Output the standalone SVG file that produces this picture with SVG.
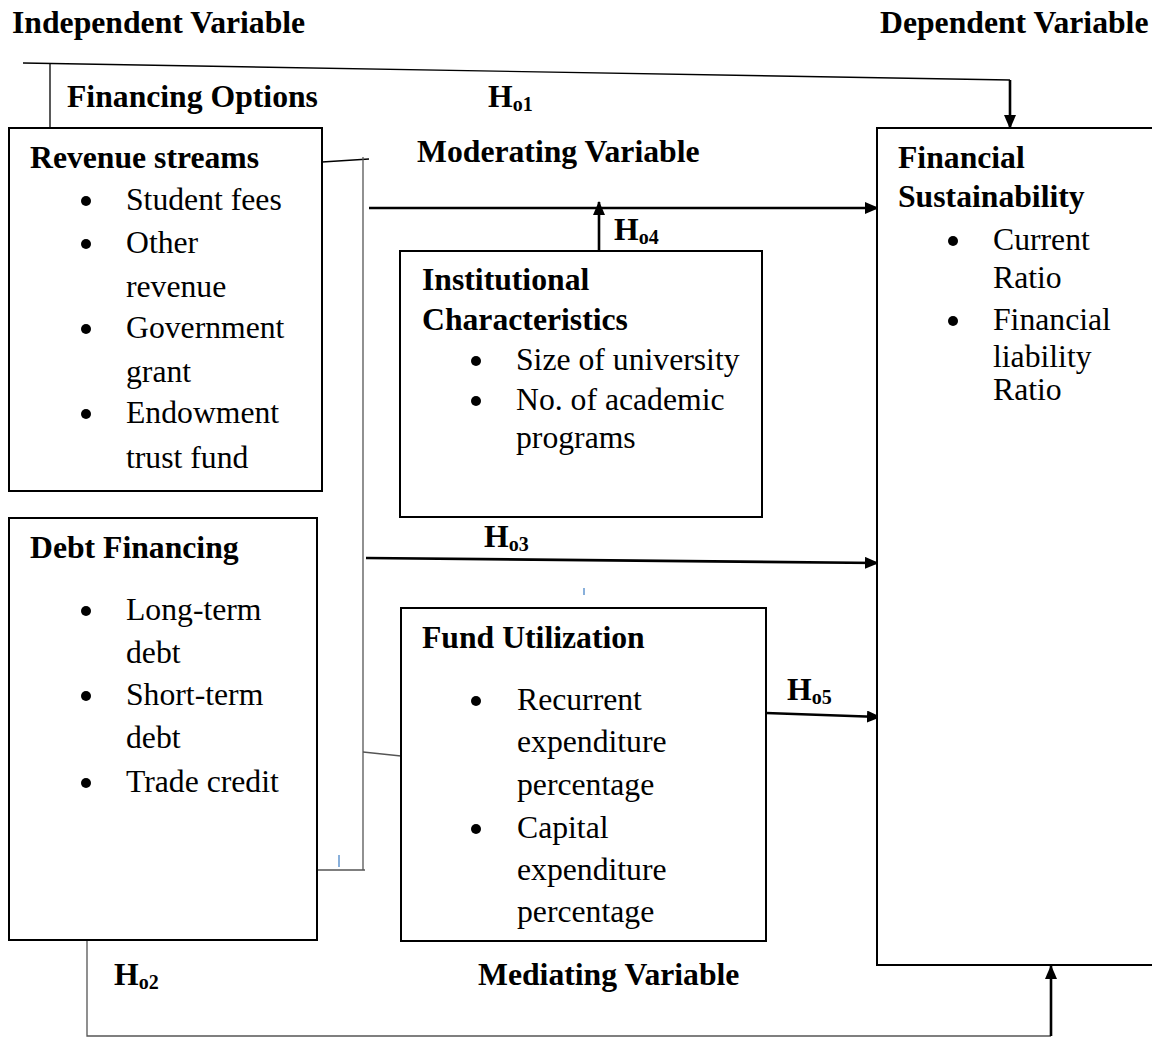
<svg xmlns="http://www.w3.org/2000/svg" width="1152" height="1038" viewBox="0 0 1152 1038">
<style>
text{font-family:"Liberation Serif","Times New Roman",serif;font-size:31.7px;fill:#000}
.b{font-weight:bold}
.sub{font-size:20px}
.box{fill:#fff;stroke:#000;stroke-width:2}
.ln{fill:none;stroke:#000;stroke-width:1.3}
.gl{fill:none;stroke:#555;stroke-width:1.3}
.ar{fill:none;stroke:#000;stroke-width:2.6}
.blue{stroke:#4a86c8;stroke-width:1.3}
circle{fill:#000}
</style>
<defs>
<marker id="ah" markerWidth="14" markerHeight="12" refX="13" refY="6" orient="auto" markerUnits="userSpaceOnUse">
<path d="M0,0 L14,6 L0,12 Z" fill="#000"/>
</marker>
</defs>
<rect width="1152" height="1038" fill="#fff"/>
<g id="headers">
<text class="b" x="12" y="33">Independent Variable</text>
<text class="b" x="880" y="33">Dependent Variable</text>
<text class="b" x="67" y="107">Financing Options</text>
<text class="b" x="417" y="162">Moderating Variable</text>
<text class="b" x="478" y="985">Mediating Variable</text>
</g>
<g id="connectors">
<path class="ln" d="M23,63 L1010,80"/>
<path class="ln" d="M50,64 L50,128"/>
<path class="ar" d="M1010,80 L1010,128" marker-end="url(#ah)"/>
<path class="ln" d="M322,162 L369,159"/>
<path class="gl" d="M363,157 L363,870"/>
<path class="gl" d="M315,870 L365,870"/>
<path class="gl" d="M363,752 L401,756"/>
<path class="blue" d="M339,855 L339,867"/>
<path class="blue" d="M584,588 L584,595"/>
<path class="ar" d="M369,208 L878,208" marker-end="url(#ah)"/>
<path class="ar" d="M599,251 L599,202" marker-end="url(#ah)"/>
<path class="ar" d="M366,558 L878,563" marker-end="url(#ah)"/>
<path class="ar" d="M766,713 L880,717" marker-end="url(#ah)"/>
<path class="gl" d="M87,941 L87,1036 L1051,1036"/>
<path class="ar" d="M1051,1036 L1051,966" marker-end="url(#ah)"/>
<text class="b" x="488" y="107">H<tspan class="sub" dy="4">o1</tspan></text>
<text class="b" x="614" y="240">H<tspan class="sub" dy="4">o4</tspan></text>
<text class="b" x="484" y="547">H<tspan class="sub" dy="4">o3</tspan></text>
<text class="b" x="787" y="700">H<tspan class="sub" dy="4">o5</tspan></text>
<text class="b" x="114" y="985">H<tspan class="sub" dy="4">o2</tspan></text>
</g>
<g id="revenue">
<rect class="box" x="9" y="128" width="313" height="363"/>
<text class="b" x="30" y="168">Revenue streams</text>
<circle cx="86" cy="201" r="5"/><text x="126" y="210">Student fees</text>
<circle cx="86" cy="244" r="5"/><text x="126" y="253">Other</text>
<text x="126" y="297">revenue</text>
<circle cx="86" cy="329" r="5"/><text x="126" y="338">Government</text>
<text x="126" y="382">grant</text>
<circle cx="86" cy="414" r="5"/><text x="126" y="423">Endowment</text>
<text x="126" y="468">trust fund</text>
</g>
<g id="debt">
<rect class="box" x="9" y="518" width="308" height="422"/>
<text class="b" x="30" y="558">Debt Financing</text>
<circle cx="86" cy="611" r="5"/><text x="126" y="620">Long-term</text>
<text x="126" y="663">debt</text>
<circle cx="86" cy="696" r="5"/><text x="126" y="705">Short-term</text>
<text x="126" y="748">debt</text>
<circle cx="86" cy="783" r="5"/><text x="126" y="792">Trade credit</text>
</g>
<g id="institutional">
<rect class="box" x="400" y="251" width="362" height="266"/>
<text class="b" x="422" y="290">Institutional</text>
<text class="b" x="422" y="330">Characteristics</text>
<circle cx="476" cy="361" r="5"/><text x="516" y="370">Size of university</text>
<circle cx="476" cy="401" r="5"/><text x="516" y="410">No. of academic</text>
<text x="516" y="448">programs</text>
</g>
<g id="fund">
<rect class="box" x="401" y="608" width="365" height="333"/>
<text class="b" x="422" y="648">Fund Utilization</text>
<circle cx="476" cy="701" r="5"/><text x="517" y="710">Recurrent</text>
<text x="517" y="752">expenditure</text>
<text x="517" y="795">percentage</text>
<circle cx="476" cy="829" r="5"/><text x="517" y="838">Capital</text>
<text x="517" y="880">expenditure</text>
<text x="517" y="922">percentage</text>
</g>
<g id="sustainability">
<rect class="box" x="877" y="128" width="280" height="837"/>
<text class="b" x="898" y="168">Financial</text>
<text class="b" x="898" y="207">Sustainability</text>
<circle cx="953" cy="241" r="5"/><text x="993" y="250">Current</text>
<text x="993" y="288">Ratio</text>
<circle cx="953" cy="321" r="5"/><text x="993" y="330">Financial</text>
<text x="993" y="367">liability</text>
<text x="993" y="400">Ratio</text>
</g>
</svg>
